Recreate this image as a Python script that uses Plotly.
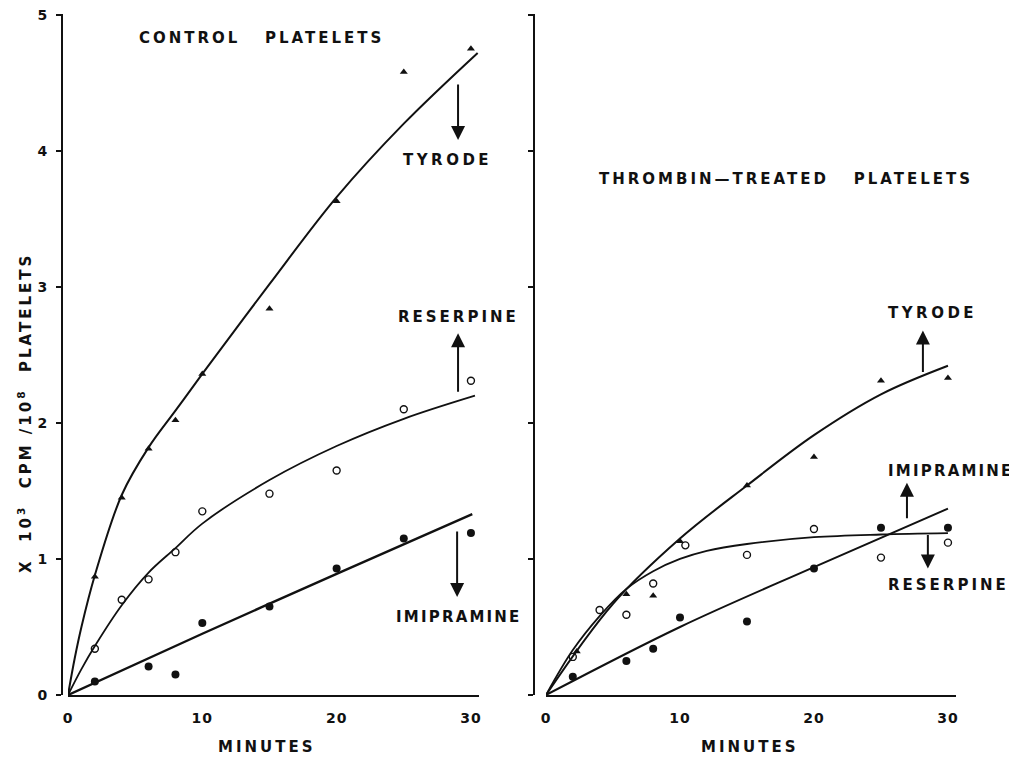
import plotly.graph_objects as go

# ---------------- data ----------------
# Control platelets - measured points
ctrl_tyrode_x = [2, 4, 6, 8, 10, 15, 20, 25, 30]
ctrl_tyrode_y = [0.87, 1.45, 1.81, 2.02, 2.36, 2.84, 3.63, 4.58, 4.75]
ctrl_reserpine_x = [2, 4, 6, 8, 10, 15, 20, 25, 30]
ctrl_reserpine_y = [0.34, 0.70, 0.85, 1.05, 1.35, 1.48, 1.65, 2.10, 2.31]
ctrl_imipramine_x = [2, 6, 8, 10, 15, 20, 25, 30]
ctrl_imipramine_y = [0.10, 0.21, 0.15, 0.53, 0.65, 0.93, 1.15, 1.19]

# Control platelets - drawn curves
ctrl_tyrode_fit_x = [0, 0.5, 1, 2, 4, 6, 8, 10, 15, 20, 25, 30.5]
ctrl_tyrode_fit_y = [0, 0.27, 0.50, 0.88, 1.47, 1.82, 2.09, 2.36, 3.02, 3.66, 4.20, 4.72]
ctrl_reserpine_fit_x = [0, 1, 2, 4, 6, 8, 10, 15, 20, 25, 30.3]
ctrl_reserpine_fit_y = [0, 0.19, 0.36, 0.66, 0.90, 1.08, 1.26, 1.58, 1.83, 2.03, 2.20]
ctrl_imipramine_fit_x = [0, 10, 20, 30.1]
ctrl_imipramine_fit_y = [0, 0.45, 0.89, 1.33]

# Thrombin-treated platelets - measured points
thr_tyrode_x = [2.3, 6, 8, 10, 15, 20, 25, 30]
thr_tyrode_y = [0.32, 0.74, 0.73, 1.13, 1.54, 1.75, 2.31, 2.33]
thr_reserpine_x = [2, 4, 6, 8, 10.4, 15, 20, 25, 30]
thr_reserpine_y = [0.28, 0.625, 0.59, 0.82, 1.10, 1.03, 1.22, 1.01, 1.12]
thr_imipramine_x = [2, 6, 8, 10, 15, 20, 25, 30]
thr_imipramine_y = [0.135, 0.25, 0.34, 0.57, 0.54, 0.93, 1.23, 1.23]

# Thrombin-treated platelets - drawn curves
thr_tyrode_fit_x = [0, 5, 10, 15, 20, 25, 30]
thr_tyrode_fit_y = [0, 0.67, 1.15, 1.54, 1.91, 2.21, 2.42]
thr_reserpine_fit_x = [0, 2, 4, 6, 8, 10, 12, 15, 20, 25, 30]
thr_reserpine_fit_y = [0, 0.33, 0.58, 0.78, 0.91, 1.00, 1.06, 1.11, 1.16, 1.18, 1.19]
thr_imipramine_fit_x = [0, 10, 20, 30]
thr_imipramine_fit_y = [0, 0.50, 0.94, 1.37]

x_ticks = [0, 10, 20, 30]
y_ticks = [0, 1, 2, 3, 4, 5]

# ---------------- styling ----------------
FONT = "DejaVu Sans"
INK = "#111111"
W, H = 1017, 757
OFF = 8  # page body margin


def px(v):
    return (v - OFF) / W


def py(v):
    return 1 - (v - OFF) / H


def spaced(txt, ls=3):
    return f"<span style='letter-spacing:{ls}px'>{txt}</span>"


fig = go.Figure()


def add_panel(xa, ya, pts, fits):
    for (xs, ys, kind) in pts:
        if kind == "tri":
            mk = dict(symbol="triangle-up", size=7, color=INK)
        elif kind == "open":
            mk = dict(symbol="circle-open", size=7, color=INK, line=dict(width=1.4, color=INK))
        else:
            mk = dict(symbol="circle", size=8, color=INK)
        fig.add_trace(go.Scatter(x=xs, y=ys, mode="markers", marker=mk,
                                 xaxis=xa, yaxis=ya, showlegend=False, hoverinfo="x+y"))
    for (xs, ys, w) in fits:
        fig.add_trace(go.Scatter(x=xs, y=ys, mode="lines",
                                 line=dict(color=INK, width=w, shape="spline", smoothing=1.0),
                                 xaxis=xa, yaxis=ya, showlegend=False, hoverinfo="skip"))


add_panel("x", "y",
          [(ctrl_tyrode_x, ctrl_tyrode_y, "tri"),
           (ctrl_reserpine_x, ctrl_reserpine_y, "open"),
           (ctrl_imipramine_x, ctrl_imipramine_y, "fill")],
          [(ctrl_tyrode_fit_x, ctrl_tyrode_fit_y, 2),
           (ctrl_reserpine_fit_x, ctrl_reserpine_fit_y, 1.8),
           (ctrl_imipramine_fit_x, ctrl_imipramine_fit_y, 2.4)])
add_panel("x2", "y2",
          [(thr_tyrode_x, thr_tyrode_y, "tri"),
           (thr_reserpine_x, thr_reserpine_y, "open"),
           (thr_imipramine_x, thr_imipramine_y, "fill")],
          [(thr_tyrode_fit_x, thr_tyrode_fit_y, 2),
           (thr_reserpine_fit_x, thr_reserpine_fit_y, 1.8),
           (thr_imipramine_fit_x, thr_imipramine_fit_y, 2)])

tickfont = dict(family=FONT, size=14, color=INK, weight="bold")
xcommon = dict(range=[0, 30.6], showgrid=False, zeroline=False, showline=True,
               linewidth=2, linecolor=INK, ticks="", tickvals=x_ticks,
               ticktext=[spaced(str(v), 1) for v in x_ticks],
               tickfont=tickfont, ticklabelstandoff=9, automargin=False,
               ticklabeloverflow="allow")
ycommon = dict(range=[0, 5.006], showgrid=False, zeroline=False, showline=True,
               linewidth=2, linecolor=INK, ticks="outside", ticklen=5, tickwidth=2,
               tickcolor=INK, tickvals=y_ticks, ticktext=[str(v) for v in y_ticks],
               tickfont=tickfont, anchor="free", automargin=False,
               ticklabeloverflow="allow")

ydom = [py(695), py(14)]
fig.update_layout(
    width=W, height=H,
    margin=dict(l=0, r=0, t=0, b=0),
    paper_bgcolor="white", plot_bgcolor="white",
    xaxis=dict(domain=[px(68), px(479)], anchor="y", **xcommon),
    yaxis=dict(domain=ydom, position=px(62), ticklabelstandoff=6, **ycommon),
    xaxis2=dict(domain=[px(546), px(956)], anchor="y2", **xcommon),
    yaxis2=dict(domain=ydom, position=px(534), showticklabels=False, **ycommon),
)

lab_font = dict(family=FONT, size=15, color=INK, weight="bold")
annots = []


def paper_text(t, x, y, angle=0):
    annots.append(dict(text=t, x=px(x), y=py(y), xref="paper", yref="paper",
                       xanchor="center", yanchor="middle", textangle=angle,
                       showarrow=False, font=lab_font))


# panel titles
paper_text(spaced("CONTROL\u00a0\u00a0\u00a0PLATELETS"), 261, 38)
paper_text(spaced("THROMBIN\u2014TREATED\u00a0\u00a0\u00a0PLATELETS"), 786, 179)
# axis titles
paper_text(spaced("MINUTES"), 267, 747)
paper_text(spaced("MINUTES"), 750, 747)
paper_text(spaced("X\u00a0\u00a010<sup>3</sup>\u00a0\u00a0CPM\u00a0/10<sup>8</sup>\u00a0\u00a0PLATELETS"),
           25, 413, angle=-90)

# series labels (data coords): (xref, yref, text, x, y, letter spacing)
labels = [
    ("x", "y", "TYRODE", 28.26, 3.93, 3.5),
    ("x", "y", "RESERPINE", 29.1, 2.78, 3),
    ("x", "y", "IMIPRAMINE", 29.1, 0.57, 2.2),
    ("x2", "y2", "TYRODE", 28.84, 2.81, 3.5),
    ("x2", "y2", "IMIPRAMINE", 30.26, 1.65, 2.2),
    ("x2", "y2", "RESERPINE", 30.07, 0.81, 3),
]
for xr, yr, t, lx, ly, ls in labels:
    annots.append(dict(text=spaced(t, ls), x=lx, y=ly, xref=xr, yref=yr,
                       xanchor="center", yanchor="middle", showarrow=False, font=lab_font))

# arrows: (xref, yref, x, head_y, tail offset px)
arrows = [
    ("x", "y", 29.04, 4.08, -57),
    ("x", "y", 29.04, 2.66, 60),
    ("x", "y", 28.97, 0.72, -67),
    ("x2", "y2", 28.13, 2.68, 43),
    ("x2", "y2", 26.94, 1.56, 37),
    ("x2", "y2", 28.5, 0.93, -35),
]
for xr, yr, ax_x, hy, off in arrows:
    annots.append(dict(text="", x=ax_x, y=hy, xref=xr, yref=yr, showarrow=True,
                       arrowhead=2, arrowsize=1.4, arrowwidth=2, arrowcolor=INK,
                       ax=0, ay=off))

fig.update_layout(annotations=annots)

fig.write_html("out.html")
